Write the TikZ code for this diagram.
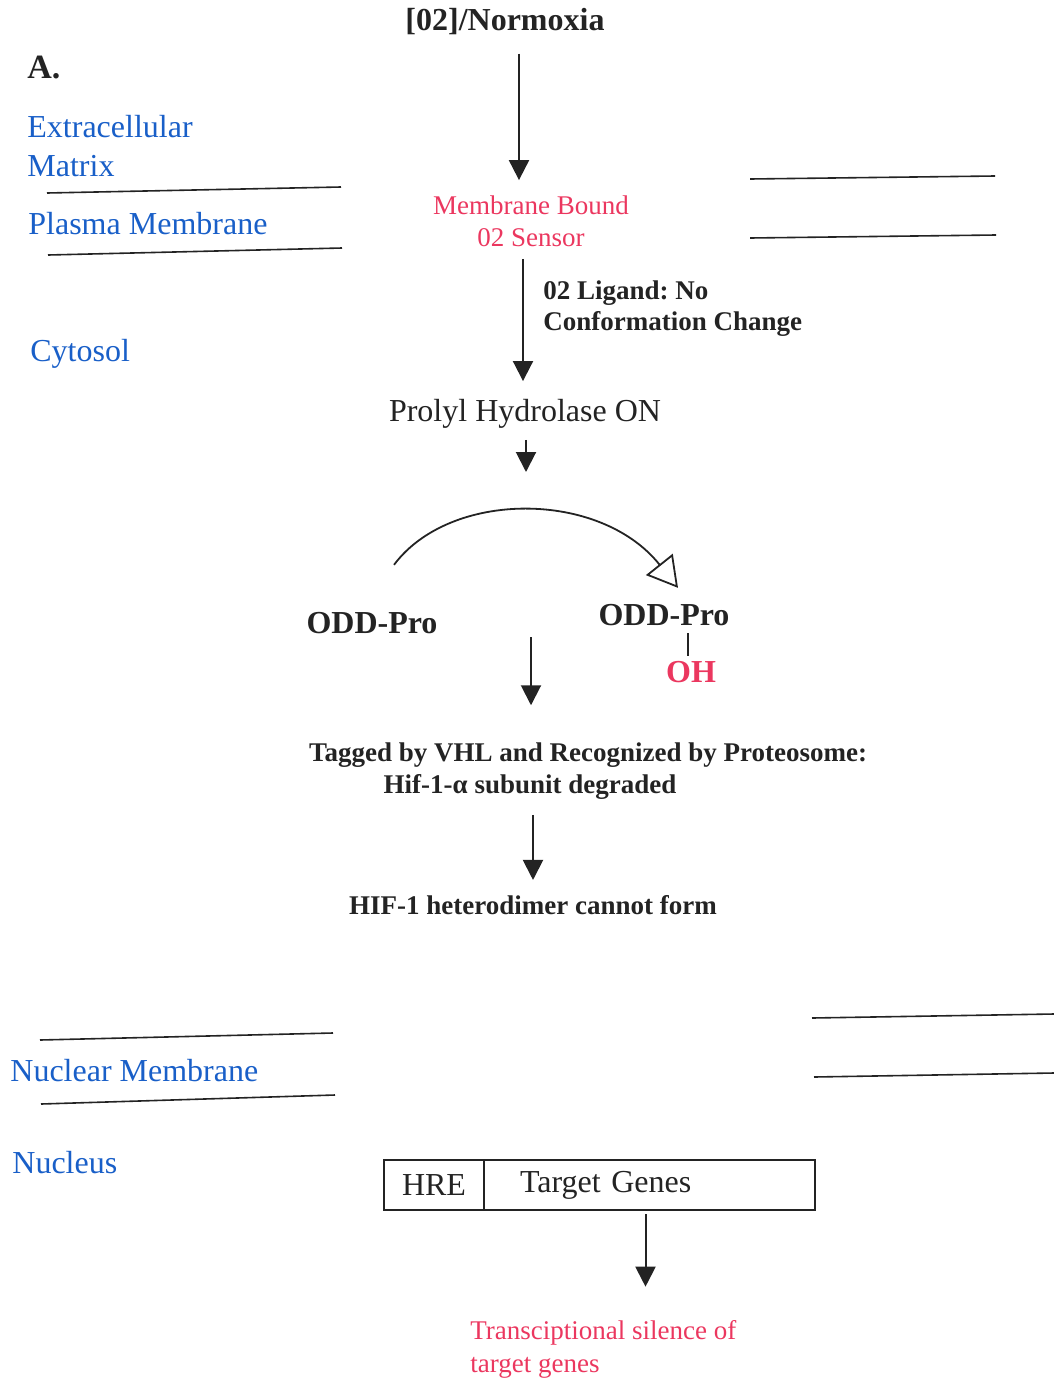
\documentclass[tikz,border=0pt]{standalone}
\usepackage{fontspec}
\setmainfont{Liberation Serif}
\frenchspacing
\usetikzlibrary{arrows.meta}
\definecolor{ink}{RGB}{35,35,35}
\definecolor{cellblue}{RGB}{25,95,200}
\definecolor{hotred}{RGB}{235,55,95}
\tikzset{
  big/.style={inner sep=0pt,text=ink,font=\fontsize{16}{19.5}\selectfont},
  bigbold/.style={inner sep=0pt,text=ink,font=\fontsize{16}{19.5}\selectfont\bfseries},
  small/.style={inner sep=0pt,text=ink,font=\fontsize{13.5}{16}\selectfont},
  smallbold/.style={inner sep=0pt,text=ink,font=\fontsize{13.5}{15.5}\selectfont\bfseries},
  region/.style={big,text=cellblue,anchor=west,align=left},
  memline/.style={draw=ink,line width=0.8pt},
  arr/.style={-{Triangle[length=10pt,width=10pt]},draw=ink,line width=1pt},
  genebox/.style={draw=ink,line width=0.9pt,minimum height=25pt,inner sep=0pt,outer sep=0pt,text=ink,font=\fontsize{16}{19.5}\selectfont}
}
\begin{document}
\begin{tikzpicture}[x=0.5pt,y=-0.5pt]

\useasboundingbox (0,0) rectangle (1054,1381);

\draw(505,22) node[bigbold](1){[02]/Normoxia};

\draw(531,221) node[small,text=hotred,align=center](2){Membrane Bound\\02 Sensor};

\draw(543,309) node[smallbold,anchor=west,align=left](13){02 Ligand: No\\Conformation Change};

\draw(525,414) node[big](3){Prolyl Hydrolase ON};

\coordinate (c1) at (526,472);

\draw(372,623) node[bigbold](4){ODD-Pro};

\draw(664,615) node[bigbold](5){ODD-Pro};

\draw(691,672) node[bigbold,text=hotred](6){OH};

\coordinate (c2) at (531,637);

\draw(588,755) node[smallbold](7){Tagged by VHL and Recognized by Proteosome:};

\draw(530,787) node[smallbold](8){Hif-1-α subunit degraded};

\draw(533,905) node[smallbold](9){HIF-1 heterodimer cannot form};

\draw(434,1185) node[genebox,minimum width=50pt](10){HRE};

\draw(10.east) node[genebox,anchor=west,text width=129.5pt,inner xsep=18pt,align=left](11){Target Genes};

\draw(470,1349) node[small,text=hotred,anchor=west,align=left,font=\fontsize{13.5}{16.5}\selectfont](12){Transciptional silence of\\target genes};

\draw(27,68) node[bigbold,anchor=west,font=\fontsize{17}{20}\selectfont\bfseries](14){A.};

\draw(27,146) node[region](15){Extracellular\\Matrix};

\draw(28,224) node[region](16){Plasma Membrane};

\draw(30,354) node[region](17){Cytosol};

\draw(10,1071) node[region](18){Nuclear Membrane};

\draw(12,1163) node[region](19){Nucleus};

\draw[memline] (47,193) -- (341,187);
\draw[memline] (48,255) -- (342,248);
\draw[memline] (750,179) -- (995,176);
\draw[memline] (750,238) -- (996,235);
\draw[memline] (40,1040) -- (333,1033);
\draw[memline] (41,1104) -- (335,1095);
\draw[memline] (812,1018) -- (1054,1014);
\draw[memline] (814,1077) -- (1054,1073);

\draw [arr,shorten <=9pt,shorten >=7.5pt] ([xshift=7pt]1.south) -- ([xshift=-6pt]2.north);
\draw [arr,shorten <=6pt,shorten >=9pt] ([xshift=-4pt]2.south) -- ([xshift=-1pt]3.north);
\draw [arr,shorten <=5.5pt] ([xshift=0.5pt]3.south) -- (c1);
\draw [-{Triangle[open,length=15pt,width=17pt]},draw=ink,line width=0.9pt] ([shift={(22,-47)}]4.north) .. controls +(56,-75) and +(-78,-98) .. ([shift={(14,-16)}]5.north);
\draw [draw=ink,line width=0.9pt,shorten <=3.5pt,shorten >=2.5pt] ([xshift=12pt]5.south) -- ([xshift=-1.5pt]6.north);
\draw [arr,shorten >=18.5pt] (c2) -- (c2 |- 7.north);
\draw [arr,shorten <=7.5pt,shorten >=7.5pt] ([xshift=1.5pt]8.south) -- (9.north);
\draw [arr,shorten <=2pt,shorten >=16.5pt] ([xshift=-2pt]11.south) -- ([xshift=-2pt]11.south |- 12.north);

\end{tikzpicture}
\end{document}
